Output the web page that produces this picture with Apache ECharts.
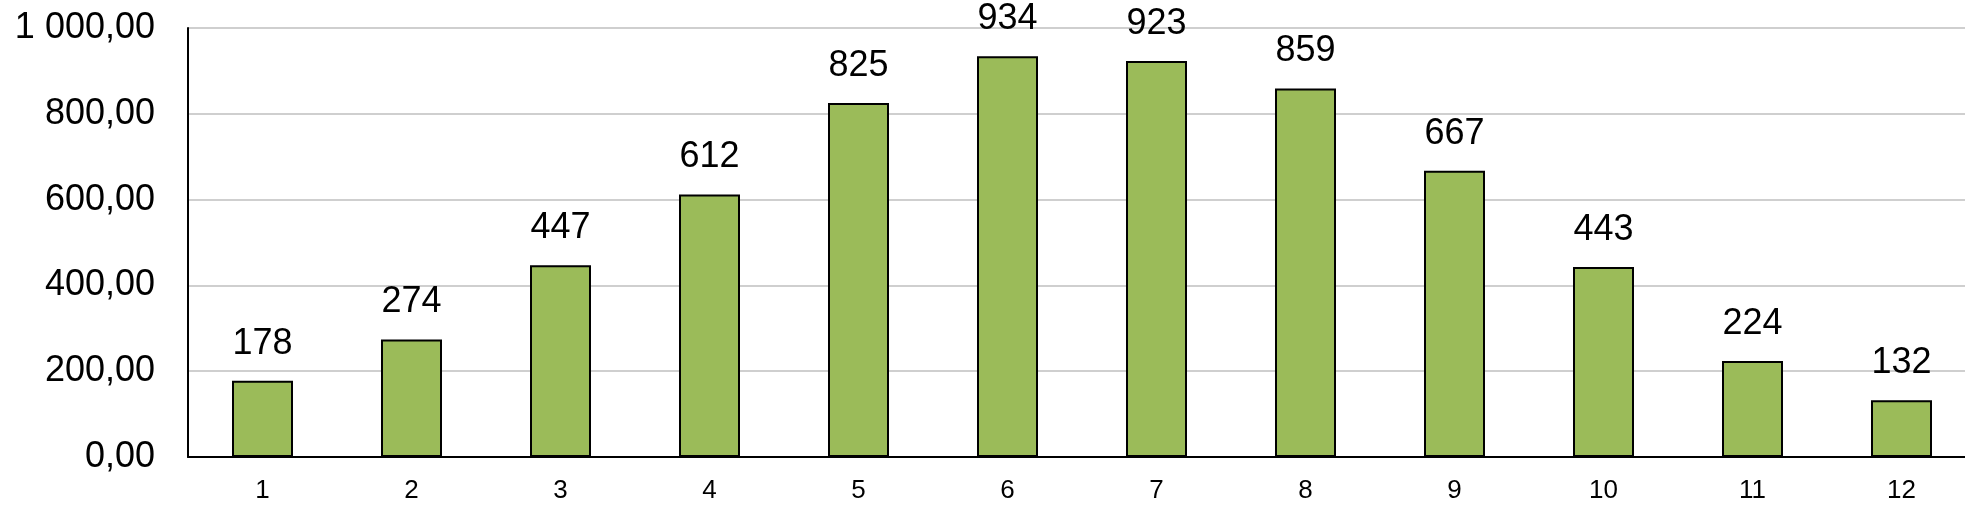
<!DOCTYPE html>
<html><head><meta charset="utf-8">
<script src="https://cdn.jsdelivr.net/npm/echarts@6/dist/echarts.min.js"></script>
<style>html,body{margin:0;padding:0;background:#fff}#c{width:1965px;height:512px}</style>
</head><body><div id="c"></div>
<script>
const categories = ['1','2','3','4','5','6','7','8','9','10','11','12'];
const values = [178, 274, 447, 612, 825, 934, 923, 859, 667, 443, 224, 132];
const yMin = 0, yMax = 1000, yStep = 200;

function fmt(v){
  const s = v.toFixed(2).split('.');
  const intPart = s[0].replace(/\B(?=(\d{3})+(?!\d))/g, ' ');
  return intPart + ',' + s[1];
}

const chart = echarts.init(document.getElementById('c'), null, {renderer:'canvas'});
chart.setOption({
  animation:false,
  backgroundColor:'#ffffff',
  grid:{left:188, width:1788, top:28, height:429, outerBoundsMode:'none'},
  xAxis:{
    type:'category', data:categories,
    axisLine:{lineStyle:{color:'#000', width:2}},
    axisTick:{show:false},
    axisLabel:{color:'#000', fontFamily:'Liberation Sans, Arial, sans-serif', fontSize:26, margin:21}
  },
  yAxis:{
    type:'value', min:yMin, max:yMax, interval:yStep,
    axisLine:{show:true, lineStyle:{color:'#000', width:2}},
    axisTick:{show:false},
    splitLine:{lineStyle:{color:'#bfbfbf', width:1.5}},
    axisLabel:{color:'#000', fontFamily:'Liberation Sans, Arial, sans-serif', fontSize:36, margin:33, formatter:fmt}
  },
  series:[{
    type:'bar', data:values, barWidth:61,
    itemStyle:{color:'#9BBB59', borderColor:'#000', borderWidth:2},
    label:{show:true, position:'top', distance:19, color:'#000',
      fontFamily:'Liberation Sans, Arial, sans-serif', fontSize:36}
  }]
});
</script></body></html>
